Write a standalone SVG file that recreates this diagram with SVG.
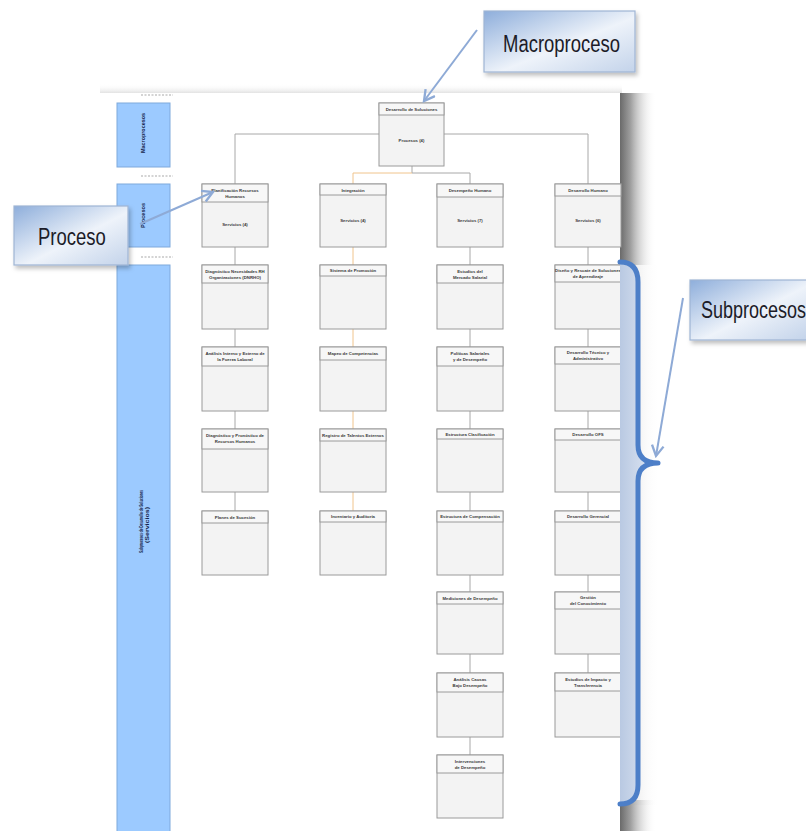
<svg xmlns="http://www.w3.org/2000/svg" width="806" height="831" viewBox="0 0 806 831">
  <defs>
    <style>
      .bx { fill: #f3f3f3; stroke: #9a9a9a; stroke-width: 1; }
      .hd { fill: #f7f7f7; stroke: #9a9a9a; stroke-width: 1; }
      .t  { font-family: "Liberation Sans", Arial, sans-serif; font-size: 4.3px; font-weight: bold; fill: #3a3a3a; text-anchor: middle; }
      .lane { fill: #9ccaff; stroke: #7fa9dc; stroke-width: 1; }
      .lt { font-family: "Liberation Sans", Arial, sans-serif; font-size: 5.5px; font-weight: bold; fill: #14244a; }
      .dash { stroke: #a9a9a9; stroke-width: 1.2; stroke-dasharray: 2 1.5; }
      .cn { fill: none; stroke: #a8a8a8; stroke-width: 1; }
      .co { fill: none; stroke: #f0c48c; stroke-width: 1; }
      .call { stroke: #9fb5d4; stroke-width: 1.2; }
      .ct { font-family: "Liberation Sans", Arial, sans-serif; font-size: 24px; fill: #1c1c28; }
      .arr { fill: none; stroke: #8eaad6; stroke-width: 2; marker-end: url(#vhead); }
      .brace { fill: none; stroke: #4d7fc8; stroke-width: 5; stroke-linecap: round; stroke-linejoin: round; }
    </style>
    <marker id="vhead" viewBox="0 0 12 12" refX="10" refY="6" markerWidth="7" markerHeight="7" orient="auto" markerUnits="strokeWidth">
      <path d="M1,1 L10,6 L1,11" fill="none" stroke="#8eaad6" stroke-width="2"/>
    </marker>
    <linearGradient id="callFill" x1="0" y1="0" x2="1" y2="1">
      <stop offset="0" stop-color="#8eaedb"/>
      <stop offset="0.55" stop-color="#eef3fa"/>
      <stop offset="1" stop-color="#c3d3ea"/>
    </linearGradient>
    <linearGradient id="sideShade" x1="0" y1="0" x2="1" y2="0">
      <stop offset="0" stop-color="#6a6a6a"/>
      <stop offset="0.3" stop-color="#a0a0a0"/>
      <stop offset="1" stop-color="#ffffff" stop-opacity="0"/>
    </linearGradient>
    <linearGradient id="sideFaint" x1="0" y1="0" x2="1" y2="0">
      <stop offset="0" stop-color="#d4d4d4"/>
      <stop offset="1" stop-color="#ffffff" stop-opacity="0"/>
    </linearGradient>
    <linearGradient id="topShade" x1="0" y1="0" x2="0" y2="1">
      <stop offset="0" stop-color="#ffffff" stop-opacity="0"/>
      <stop offset="1" stop-color="#dcdcdc"/>
    </linearGradient>
    <linearGradient id="braceBand" x1="0" y1="0" x2="1" y2="0">
      <stop offset="0" stop-color="#b9c9e2"/>
      <stop offset="1" stop-color="#e4ebf6"/>
    </linearGradient>
    <filter id="soft" x="-10%" y="-10%" width="130%" height="140%">
      <feDropShadow dx="2" dy="3" stdDeviation="2" flood-color="#000" flood-opacity="0.25"/>
    </filter>
  </defs>

  <rect width="806" height="831" fill="#ffffff"/>

  <!-- page sheet with its shadow -->
  <rect x="100" y="84" width="522" height="10" fill="url(#topShade)"/>
  <rect x="620" y="93" width="36" height="172" fill="url(#sideShade)"/>
  <rect x="620" y="265" width="40" height="540" fill="url(#sideFaint)"/>
  <rect x="620" y="800" width="36" height="31" fill="url(#sideShade)"/>
  <rect x="100" y="93" width="520" height="738" fill="#ffffff"/>

  <!-- level lanes on the left of the sheet -->
  <g id="lanes">
    <line class="dash" x1="141" y1="95" x2="173" y2="95"/>
    <line class="dash" x1="141" y1="176" x2="173" y2="176"/>
    <line class="dash" x1="141" y1="257" x2="173" y2="257"/>
    <rect class="lane" x="117" y="103" width="53" height="64"/>
    <rect class="lane" x="117" y="184" width="53" height="63"/>
    <rect class="lane" x="117" y="265" width="53" height="570"/>
    <text class="lt" transform="translate(145 153) rotate(-90)" textLength="40" lengthAdjust="spacingAndGlyphs">Macroprocesos</text>
    <text class="lt" transform="translate(145 228) rotate(-90)" textLength="25" lengthAdjust="spacingAndGlyphs">Procesos</text>
    <text class="lt" transform="translate(143 553) rotate(-90)" textLength="63" lengthAdjust="spacingAndGlyphs">Subprocesos de Desarrollo de Soluciones</text>
    <text class="lt" transform="translate(148.5 543) rotate(-90)" textLength="36" lengthAdjust="spacingAndGlyphs">(Servicios)</text>
  </g>

  <!-- connectors -->
  <g id="connectors">
    <path class="cn" d="M235,184 V134 H588 V184"/>
    <path class="cn" d="M412,166 V173 H470 V184"/>
    <path class="co" d="M353,184 V173 H412"/>
    <!-- column 1 -->
    <path class="cn" d="M235,247 V265 M235,329 V347 M235,411 V429 M235,492 V511"/>
    <!-- column 2 -->
    <path class="co" d="M353,247 V265 M353,329 V347 M353,411 V429 M353,492 V511"/>
    <!-- column 3 -->
    <path class="cn" d="M470,247 V265 M470,329 V347 M470,411 V429 M470,492 V511 M470,575 V592 M470,654 V673 M470,737 V755"/>
    <!-- column 4 -->
    <path class="cn" d="M588,247 V265 M588,329 V347 M588,411 V429 M588,492 V511 M588,575 V592 M588,654 V673"/>
  </g>

  <!-- macroprocess -->
  <g id="macro">
    <rect class="bx" x="379" y="103" width="65" height="63"/>
    <rect class="hd" x="379" y="103" width="65" height="12"/>
    <text class="t" x="411.5" y="111">Desarrollo de Soluciones</text>
    <text class="t" x="411.5" y="142">Procesos (4)</text>
  </g>

  <!-- processes -->
  <g id="proc-planificacion">
    <rect class="bx" x="202" y="184" width="66" height="63"/>
    <rect class="hd" x="202" y="184" width="66" height="18"/>
    <text class="t" x="235" y="191.5">Planificación Recursos</text>
    <text class="t" x="235" y="197.5">Humanos</text>
    <text class="t" x="235" y="226">Servicios (4)</text>
  </g>
  <g id="proc-integracion">
    <rect class="bx" x="320" y="184" width="66" height="63"/>
    <rect class="hd" x="320" y="184" width="66" height="11"/>
    <text class="t" x="353" y="191.5">Integración</text>
    <text class="t" x="353" y="222">Servicios (4)</text>
  </g>
  <g id="proc-desempeno">
    <rect class="bx" x="437" y="184" width="66" height="63"/>
    <rect class="hd" x="437" y="184" width="66" height="13"/>
    <text class="t" x="470" y="192">Desempeño Humano</text>
    <text class="t" x="470" y="222">Servicios (7)</text>
  </g>
  <g id="proc-desarrollo">
    <rect class="bx" x="555" y="184" width="66" height="63"/>
    <rect class="hd" x="555" y="184" width="66" height="12"/>
    <text class="t" x="588" y="191.5">Desarrollo Humano</text>
    <text class="t" x="588" y="222">Servicios (6)</text>
  </g>

  <!-- subprocesses, column 1 -->
  <g id="sub-1-1">
    <rect class="bx" x="202" y="265" width="66" height="64"/>
    <rect class="hd" x="202" y="265" width="66" height="18"/>
    <text class="t" x="235" y="272.5">Diagnóstico Necesidades RH</text>
    <text class="t" x="235" y="278.5">Organizaciones (DNRHO)</text>
  </g>
  <g id="sub-1-2">
    <rect class="bx" x="202" y="347" width="66" height="64"/>
    <rect class="hd" x="202" y="347" width="66" height="19"/>
    <text class="t" x="235" y="354.5">Análisis Interno y Externo de</text>
    <text class="t" x="235" y="360.5">la Fuerza Laboral</text>
  </g>
  <g id="sub-1-3">
    <rect class="bx" x="202" y="429" width="66" height="63"/>
    <rect class="hd" x="202" y="429" width="66" height="20"/>
    <text class="t" x="235" y="437">Diagnóstico y Pronóstico de</text>
    <text class="t" x="235" y="443">Recursos Humanos</text>
  </g>
  <g id="sub-1-4">
    <rect class="bx" x="202" y="511" width="66" height="64"/>
    <rect class="hd" x="202" y="511" width="66" height="12"/>
    <text class="t" x="235" y="518.5">Planes de Sucesión</text>
  </g>

  <!-- subprocesses, column 2 -->
  <g id="sub-2-1">
    <rect class="bx" x="320" y="265" width="66" height="64"/>
    <rect class="hd" x="320" y="265" width="66" height="11"/>
    <text class="t" x="353" y="272">Sistema de Promoción</text>
  </g>
  <g id="sub-2-2">
    <rect class="bx" x="320" y="347" width="66" height="64"/>
    <rect class="hd" x="320" y="347" width="66" height="13"/>
    <text class="t" x="353" y="355">Mapeo de Competencias</text>
  </g>
  <g id="sub-2-3">
    <rect class="bx" x="320" y="429" width="66" height="63"/>
    <rect class="hd" x="320" y="429" width="66" height="12"/>
    <text class="t" x="353" y="436.5">Registro de Talentos Externos</text>
  </g>
  <g id="sub-2-4">
    <rect class="bx" x="320" y="511" width="66" height="64"/>
    <rect class="hd" x="320" y="511" width="66" height="11"/>
    <text class="t" x="353" y="518">Inventario y Auditoría</text>
  </g>

  <!-- subprocesses, column 3 -->
  <g id="sub-3-1">
    <rect class="bx" x="437" y="265" width="66" height="64"/>
    <rect class="hd" x="437" y="265" width="66" height="18"/>
    <text class="t" x="470" y="272.5">Estudios del</text>
    <text class="t" x="470" y="278.5">Mercado Salarial</text>
  </g>
  <g id="sub-3-2">
    <rect class="bx" x="437" y="347" width="66" height="64"/>
    <rect class="hd" x="437" y="347" width="66" height="19"/>
    <text class="t" x="470" y="354.5">Políticas Salariales</text>
    <text class="t" x="470" y="360.5">y de Desempeño</text>
  </g>
  <g id="sub-3-3">
    <rect class="bx" x="437" y="429" width="66" height="63"/>
    <rect class="hd" x="437" y="429" width="66" height="10"/>
    <text class="t" x="470" y="435.5">Estructura Clasificación</text>
  </g>
  <g id="sub-3-4">
    <rect class="bx" x="437" y="511" width="66" height="64"/>
    <rect class="hd" x="437" y="511" width="66" height="11"/>
    <text class="t" x="470" y="518">Estructura de Compensación</text>
  </g>
  <g id="sub-3-5">
    <rect class="bx" x="437" y="592" width="66" height="62"/>
    <rect class="hd" x="437" y="592" width="66" height="12"/>
    <text class="t" x="470" y="599.5">Mediciones de Desempeño</text>
  </g>
  <g id="sub-3-6">
    <rect class="bx" x="437" y="673" width="66" height="64"/>
    <rect class="hd" x="437" y="673" width="66" height="19"/>
    <text class="t" x="470" y="680.5">Análisis Causas</text>
    <text class="t" x="470" y="686.5">Bajo Desempeño</text>
  </g>
  <g id="sub-3-7">
    <rect class="bx" x="437" y="755" width="66" height="63"/>
    <rect class="hd" x="437" y="755" width="66" height="18"/>
    <text class="t" x="470" y="762.5">Intervenciones</text>
    <text class="t" x="470" y="768.5">de Desempeño</text>
  </g>

  <!-- subprocesses, column 4 -->
  <g id="sub-4-1">
    <rect class="bx" x="555" y="265" width="66" height="64"/>
    <rect class="hd" x="555" y="265" width="66" height="17"/>
    <text class="t" x="588" y="272">Diseño y Rescate de Soluciones</text>
    <text class="t" x="588" y="278">de Aprendizaje</text>
  </g>
  <g id="sub-4-2">
    <rect class="bx" x="555" y="347" width="66" height="64"/>
    <rect class="hd" x="555" y="347" width="66" height="17"/>
    <text class="t" x="588" y="354">Desarrollo Técnico y</text>
    <text class="t" x="588" y="360">Administrativo</text>
  </g>
  <g id="sub-4-3">
    <rect class="bx" x="555" y="429" width="66" height="63"/>
    <rect class="hd" x="555" y="429" width="66" height="11"/>
    <text class="t" x="588" y="436">Desarrollo OFS</text>
  </g>
  <g id="sub-4-4">
    <rect class="bx" x="555" y="511" width="66" height="64"/>
    <rect class="hd" x="555" y="511" width="66" height="11"/>
    <text class="t" x="588" y="518">Desarrollo Gerencial</text>
  </g>
  <g id="sub-4-5">
    <rect class="bx" x="555" y="592" width="66" height="62"/>
    <rect class="hd" x="555" y="592" width="66" height="17"/>
    <text class="t" x="588" y="599">Gestión</text>
    <text class="t" x="588" y="605">del Conocimiento</text>
  </g>
  <g id="sub-4-6">
    <rect class="bx" x="555" y="673" width="66" height="64"/>
    <rect class="hd" x="555" y="673" width="66" height="18"/>
    <text class="t" x="588" y="680.5">Estudios de Impacto y</text>
    <text class="t" x="588" y="686.5">Transferencia</text>
  </g>

  <!-- brace grouping the subprocess level -->
  <g id="brace">
    <path d="M620,262 Q638,262 638,282 V445 Q638,463 658,463 Q638,463 638,481 V785 Q638,804 620,804 Z" fill="url(#braceBand)"/>
    <path class="brace" d="M620,262 Q638,262 638,282 V445 Q638,463 658,463 Q638,463 638,481 V785 Q638,804 620,804"/>
  </g>

  <!-- callouts (labels narrowed horizontally, condensed style) -->
  <g id="callout-macroproceso">
    <rect class="call" x="484" y="11" width="151" height="61" fill="url(#callFill)" filter="url(#soft)"/>
    <text class="ct" transform="translate(503 52) scale(0.77 1)">Macroproceso</text>
    <line class="arr" x1="477" y1="30" x2="424" y2="101"/>
  </g>
  <g id="callout-proceso">
    <rect class="call" x="14" y="206" width="114" height="59" fill="url(#callFill)" filter="url(#soft)"/>
    <text class="ct" transform="translate(38 245) scale(0.77 1)">Proceso</text>
    <line class="arr" x1="140" y1="224" x2="213" y2="192"/>
  </g>
  <g id="callout-subprocesos">
    <rect class="call" x="690" y="280" width="117" height="60" fill="url(#callFill)" filter="url(#soft)"/>
    <text class="ct" transform="translate(701 318) scale(0.75 1)">Subprocesos</text>
    <line class="arr" x1="683" y1="298" x2="656" y2="456"/>
  </g>
</svg>
